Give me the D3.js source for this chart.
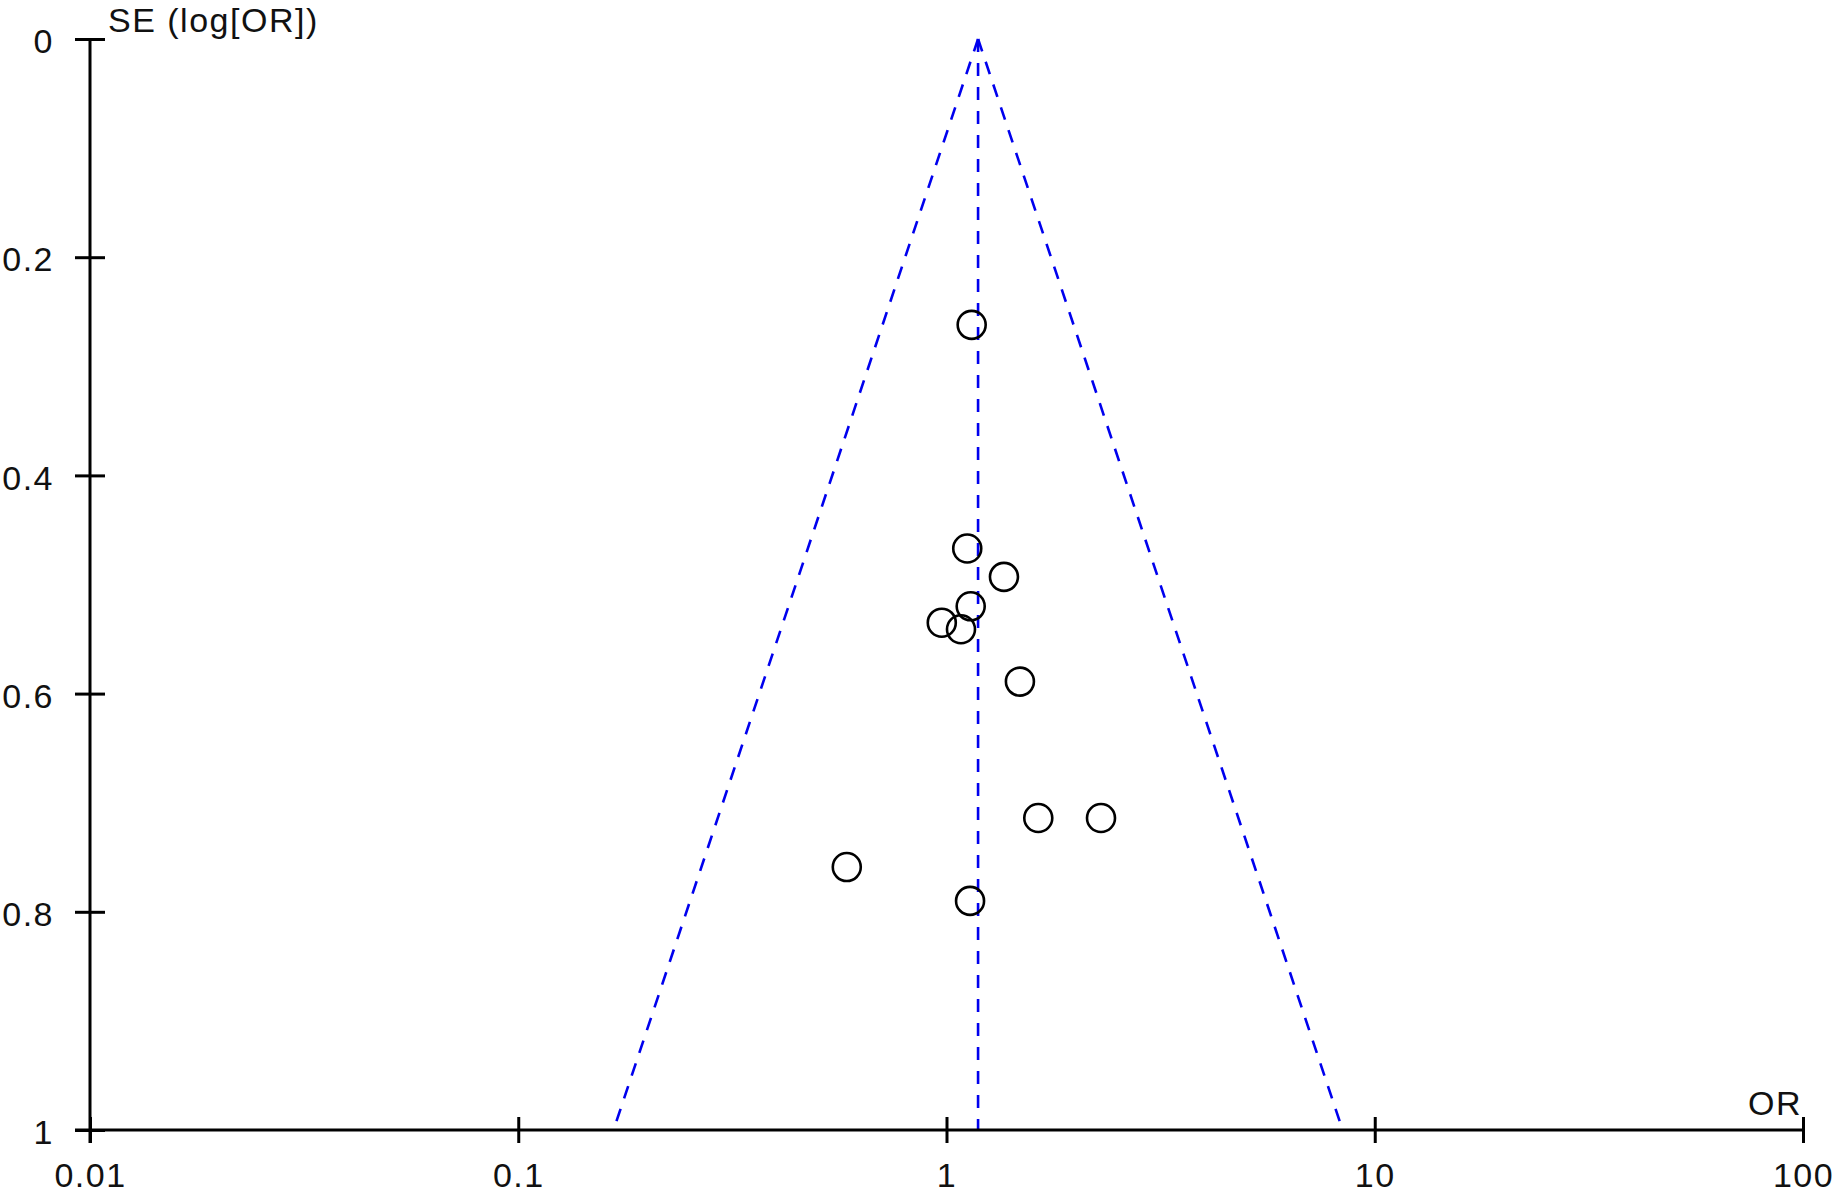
<!DOCTYPE html>
<html lang="en">

<head>
    <meta charset="UTF-8">
    <title>Funnel plot</title>
    <script src="https://d3js.org/d3.v7.min.js"></script>
    <style>
        body { margin: 0; background: #fff; }
        text { font-family: "Liberation Sans", Arial, sans-serif; }
    </style>
</head>

<body>
    <script>
        // study odds ratios and their SE(log OR)
        var orValues = [1.145, 1.118, 1.362, 1.139, 0.975, 1.081, 1.484, 1.638, 2.295, 0.585, 1.135];
        var seValues = [0.262, 0.467, 0.493, 0.520, 0.535, 0.541, 0.589, 0.714, 0.714, 0.759, 0.790];
        // pooled estimate
        var pooledOR = 1.185;
        var xTicks = [0.01, 0.1, 1, 10, 100];
        var xTickLabels = ["0.01", "0.1", "1", "10", "100"];
        var yTicks = [0, 0.2, 0.4, 0.6, 0.8, 1];
        var yTickLabels = ["0", "0.2", "0.4", "0.6", "0.8", "1"];

        var width = 1835, height = 1197;
        var fontSize = "34px", spacing = "1.5px";
        var svg = d3.select("body")
            .append("svg")
            .attr("width", width)
            .attr("height", height);

        var x = d3.scaleLog()
            .domain([0.01, 100])
            .range([90, 1803]);
        var y = d3.scaleLinear()
            .domain([0, 1])
            .range([39, 1130]);

        // funnel lines (95% limits)
        var seMax = 1;
        var lo = pooledOR * Math.exp(-1.96 * seMax);
        var hi = pooledOR * Math.exp(1.96 * seMax);
        var dashed = [
            [[pooledOR, 0], [lo, seMax]],
            [[pooledOR, 0], [hi, seMax]],
            [[pooledOR, 0], [pooledOR, seMax]]
        ];
        svg.selectAll(".funnel")
            .data(dashed)
            .enter()
            .append("line")
            .attr("class", "funnel")
            .attr("x1", d => x(d[0][0]))
            .attr("y1", d => y(d[0][1]))
            .attr("x2", d => x(d[1][0]))
            .attr("y2", d => y(d[1][1]))
            .attr("stroke", "#0000ee")
            .attr("stroke-width", 2.6)
            .attr("stroke-dasharray", "13,11");

        // y axis
        var yAxis = svg.append("g")
            .attr("transform", "translate(90,0)")
            .call(d3.axisLeft(y).tickValues(yTicks).tickFormat((d, i) => yTickLabels[i]).tickSize(15));
        yAxis.select(".domain").remove();
        yAxis.selectAll(".tick line")
            .attr("x1", -15).attr("x2", 15)
            .attr("stroke", "#000").attr("stroke-width", 3);
        yAxis.selectAll(".tick text")
            .attr("x", -36)
            .attr("dy", "0.4em")
            .attr("fill", "#111")
            .style("font-size", fontSize)
            .style("letter-spacing", spacing);
        svg.append("line")
            .attr("x1", 90).attr("x2", 90)
            .attr("y1", y(0)).attr("y2", y(1) + 13)
            .attr("stroke", "#000").attr("stroke-width", 3);

        // x axis
        var xAxis = svg.append("g")
            .attr("transform", "translate(0,1130)")
            .call(d3.axisBottom(x).tickValues(xTicks).tickFormat((d, i) => xTickLabels[i]).tickSize(13));
        xAxis.select(".domain").remove();
        xAxis.selectAll(".tick line")
            .attr("y1", -13).attr("y2", 13)
            .attr("stroke", "#000").attr("stroke-width", 3);
        xAxis.selectAll(".tick text")
            .attr("y", 33)
            .attr("fill", "#111")
            .style("font-size", fontSize)
            .style("letter-spacing", spacing);
        svg.append("line")
            .attr("x1", 75).attr("x2", x(100))
            .attr("y1", 1130).attr("y2", 1130)
            .attr("stroke", "#000").attr("stroke-width", 3);

        // axis titles
        svg.append("text")
            .attr("x", 108).attr("y", 32)
            .style("font-size", fontSize)
            .style("letter-spacing", spacing)
            .attr("fill", "#111")
            .text("SE (log[OR])");
        svg.append("text")
            .attr("x", 1802).attr("y", 1115)
            .attr("text-anchor", "end")
            .style("font-size", fontSize)
            .style("letter-spacing", spacing)
            .attr("fill", "#111")
            .text("OR");

        // studies
        svg.selectAll("circle")
            .data(orValues)
            .enter()
            .append("circle")
            .attr("cx", d => x(d))
            .attr("cy", (d, i) => y(seValues[i]))
            .attr("r", 14)
            .attr("fill", "none")
            .attr("stroke", "#000")
            .attr("stroke-width", 2.6);
    </script>
</body>

</html>
